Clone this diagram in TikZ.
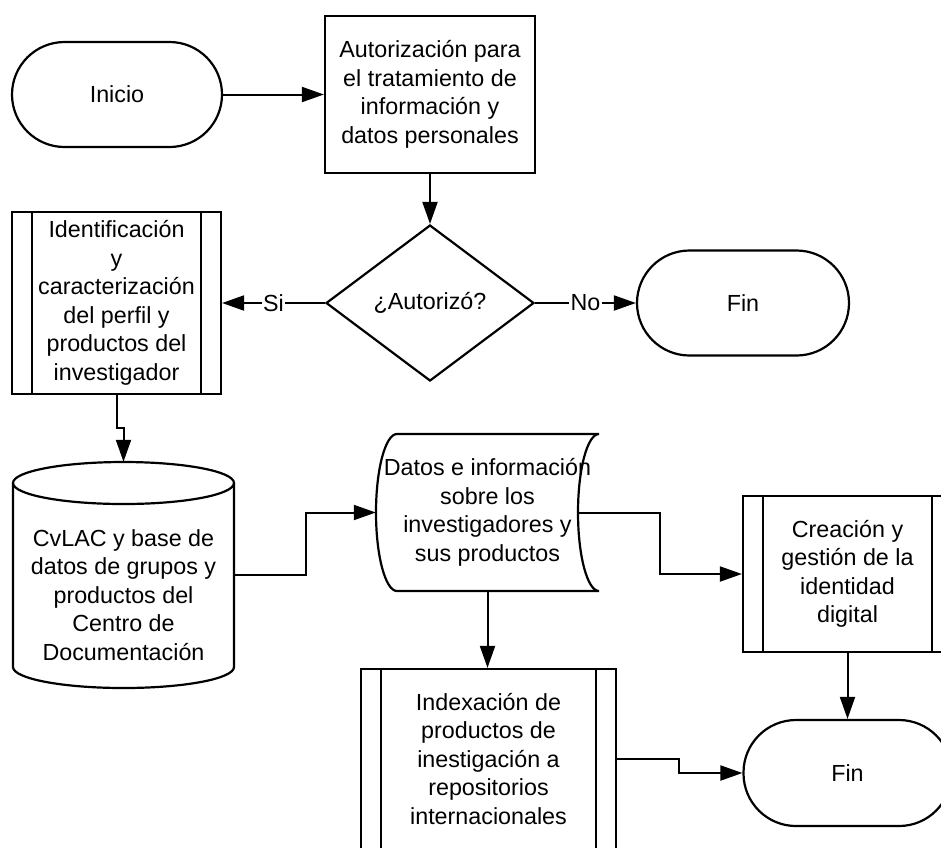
\documentclass[tikz,border=0pt]{standalone}
\usepackage{fontspec}
\setmainfont{Liberation Sans}
\usetikzlibrary{arrows.meta,shapes.geometric}
\begin{document}
\begin{tikzpicture}[x=1pt,y=-1pt,
  every node/.style={font=\fontsize{23.3}{28.5}\selectfont, align=center, inner sep=0pt},
  shp/.style={draw, line width=2.2pt},
  term/.style={shp, minimum width=210pt, minimum height=105pt, rounded corners=52.5pt},
  boxnode/.style={shp, rectangle},
  ghost/.style={rectangle},
  flow/.style={line width=2pt, -{Triangle[length=22pt,width=15pt]}},
  lbl/.style={fill=white, inner sep=1.5pt}]
\useasboundingbox (0,0) rectangle (941,847);
\clip (0,0) rectangle (941,847);

% start, authorisation and decision
\node[term] (inicio) at (117,94.5) {Inicio};
\node[boxnode, minimum width=210pt, minimum height=157pt] (aut) at (430,94.5)
  {Autorización para\\el tratamiento de\\información y\\datos personales};
\node[shp, diamond, aspect=1.33, minimum width=208pt, minimum height=156pt] (dec) at (430,303) {¿Autorizó?};
\node[term, minimum width=212pt] (fin1) at (743,303) {Fin};

% predefined processes
\node[boxnode, minimum width=209pt, minimum height=182pt] (idf) at (116.5,303)
  {Identificación\\y\\caracterización\\del perfil y\\productos del\\investigador};
\node[boxnode, minimum width=209pt, minimum height=156pt] (cre) at (847.5,574)
  {Creación y\\gestión de la\\identidad\\digital};
\node[boxnode, minimum width=255pt, minimum height=180pt] (idx) at (488.5,759)
  {Indexación de\\productos de\\inestigación a\\repositorios\\internacionales};
\foreach \n in {idf,cre,idx}{
  \draw[shp] ([xshift=21pt]\n.north west) -- ([xshift=21pt]\n.south west);
  \draw[shp] ([xshift=-21pt]\n.north east) -- ([xshift=-21pt]\n.south east);
}

% database cylinder
\node[ghost, minimum width=221pt, minimum height=226pt] (cyl) at (123.5,575) {};
\draw[shp] (13,483) -- (13,667) arc[start angle=180,end angle=360,x radius=110.5pt,y radius=21pt] -- (234,483);
\draw[shp] (123.5,483) ellipse[x radius=110.5pt, y radius=21pt];
\node (cyltxt) at (123.5,595) {CvLAC y base de\\datos de grupos y\\productos del\\Centro de\\Documentación};

% stored data
\node[ghost, minimum width=223pt, minimum height=157pt] (dat) at (487.5,512.5)
  {Datos e información\\sobre los\\investigadores y\\sus productos};
\draw[shp] (397,434) -- (599,434)
  arc[start angle=90,end angle=270,x radius=21pt,y radius=78.5pt] -- (397,591)
  arc[start angle=270,end angle=90,x radius=21pt,y radius=78.5pt] -- cycle;

% final terminator
\node[term, minimum width=208pt, minimum height=106pt] (fin2) at (847.5,773) {Fin};

% connectors
\draw[flow] (inicio.east) -- (aut.west);
\draw[flow] (aut.south) -- (dec.north);
\draw[flow] (dec.east) -- node[lbl] {No} (fin1.west);
\draw[flow] (dec.west) -- node[lbl] {Si} (idf.east);
\draw[flow] (idf.south) -- ++(0,33) -| (cyl.north);
\draw[flow] (cyl.east) -- ++(72,0) |- (dat.west);
\draw[flow] ([xshift=-21pt]dat.east) -- (660,512.5) |- (cre.west);
\draw[flow] (dat.south) -- (dat.south |- idx.north);
\draw[flow] (cre.south) -- (cre.south |- fin2.north);
\draw[flow] (idx.east) -- (679,759) |- (fin2.west);
\end{tikzpicture}
\end{document}
